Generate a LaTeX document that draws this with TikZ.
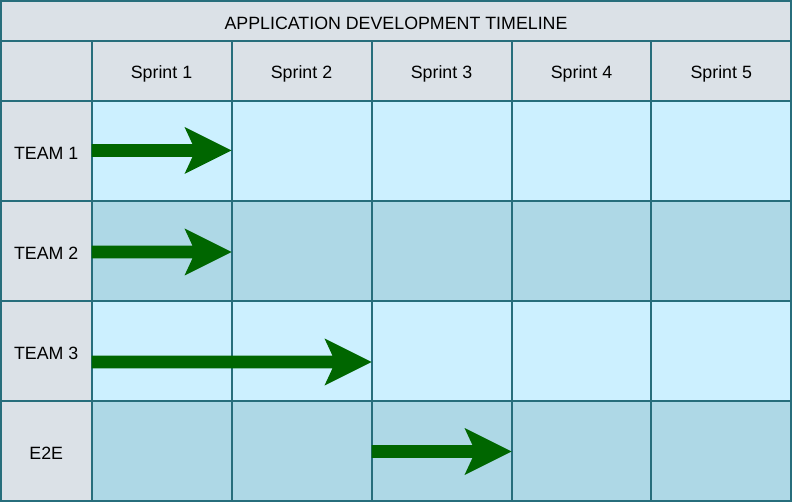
\documentclass[tikz,border=0pt]{standalone}
\usepackage{fontspec}
\setmainfont{Liberation Sans}
\usetikzlibrary{calc}
\definecolor{hdr}{HTML}{DBE1E7}
\definecolor{lite}{HTML}{CCF0FF}
\definecolor{dark}{HTML}{AED8E6}
\definecolor{edge}{HTML}{276E7C}
\definecolor{agreen}{HTML}{006600}
\newcommand\fatarrow[2]{%
  \fill[agreen] let \p1=(#1), \p2=(#2) in
    (\x1,\y1+6.3pt) -- (\x2-39pt,\y1+6.3pt) -- (\x2-47pt,\y1+23.5pt) -- (\x2,\y1)
    -- (\x2-47pt,\y1-23.5pt) -- (\x2-39pt,\y1-6.3pt) -- (\x1,\y1-6.3pt) -- cycle;}
\newcommand\lowtext[1]{\raisebox{-2.5pt}[\height][\depth]{#1}}
\begin{document}
\begin{tikzpicture}[x=1pt,y=-1pt,
  cell/.style={draw=edge,line width=2pt,rectangle,inner sep=0pt,outer sep=0pt,
    font=\fontsize{17.8}{20}\selectfont,text=black},
  hcell/.style={cell,fill=hdr},
  lcell/.style={cell,fill=lite},
  dcell/.style={cell,fill=dark}]
\useasboundingbox (0,0) rectangle (792,502);
% title
\node[hcell,minimum width=790pt,minimum height=40.5pt] (title) at (396,21.25) {\lowtext{APPLICATION DEVELOPMENT TIMELINE}};
% header row
\node[hcell,minimum width=90.5pt,minimum height=59.5pt] (h0) at (46.25,71.25) {};
\foreach \i/\cx in {1/161.5,2/301.5,3/441.5,4/581.5,5/721.25}{
  \node[hcell,minimum width=140pt,minimum height=59.5pt] (h\i) at (\cx,71.25) {\lowtext{Sprint \i}};
}
% team rows
\foreach \r/\cy/\lab/\st in {1/151/TEAM 1/lcell,2/251/TEAM 2/dcell,3/351/TEAM 3/lcell,4/451/E2E/dcell}{
  \node[hcell,minimum width=90.5pt,minimum height=100pt] (r\r) at (46.25,\cy) {\lowtext{\lab}};
  \foreach \i/\cx in {1/161.5,2/301.5,3/441.5,4/581.5,5/721.25}{
    \node[\st,minimum width=140pt,minimum height=100pt] (c\r\i) at (\cx,\cy) {};
  }
}
% arrow end points
\coordinate (a1s) at ($(c11.west)+(0,-0.5)$);
\coordinate (a1e) at ($(c11.east)+(0,-0.5)$);
\coordinate (a2s) at ($(c21.west)+(0,1)$);
\coordinate (a2e) at ($(c21.east)+(0,1)$);
\coordinate (a3s) at ($(c31.west)+(0,11)$);
\coordinate (a3e) at ($(c32.east)+(0,11)$);
\coordinate (a4s) at ($(c43.west)+(0,0.5)$);
\coordinate (a4e) at ($(c43.east)+(0,0.5)$);
\fatarrow{a1s}{a1e}
\fatarrow{a2s}{a2e}
\fatarrow{a3s}{a3e}
\fatarrow{a4s}{a4e}
\end{tikzpicture}
\end{document}
